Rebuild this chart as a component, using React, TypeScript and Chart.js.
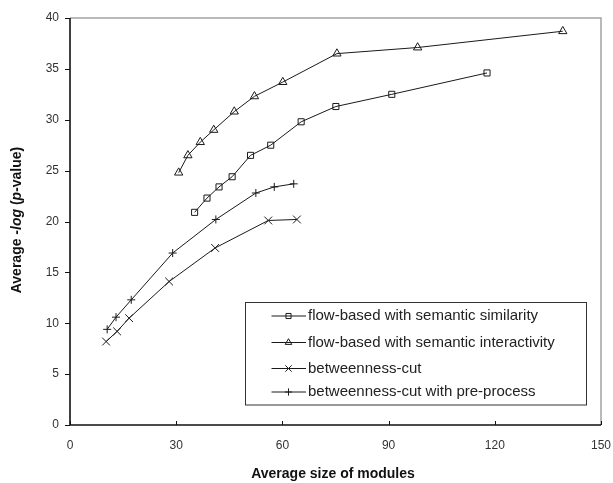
import React, { useEffect, useRef } from "react";
import { Chart, registerables } from "chart.js";

Chart.register(...registerables);

const seriesNames = [
  "flow-based with semantic similarity",
  "flow-based with semantic interactivity",
  "betweenness-cut",
  "betweenness-cut with pre-process",
];

const simX = [35.2, 38.7, 42.1, 45.8, 51.0, 56.7, 65.3, 75.1, 90.9, 117.8];
const simY = [20.9, 22.3, 23.4, 24.4, 26.5, 27.5, 29.8, 31.3, 32.5, 34.6];

const interX = [30.7, 33.3, 36.8, 40.6, 46.4, 52.1, 60.1, 75.4, 98.2, 139.2];
const interY = [24.8, 26.5, 27.8, 29.0, 30.8, 32.3, 33.7, 36.5, 37.1, 38.7];

const btwX = [10.2, 13.3, 16.7, 28.0, 41.0, 56.0, 64.1];
const btwY = [8.2, 9.2, 10.5, 14.1, 17.4, 20.1, 20.2];

const preX = [10.5, 13.0, 17.3, 29.0, 41.2, 52.5, 57.7, 63.2];
const preY = [9.4, 10.6, 12.3, 16.9, 20.2, 22.8, 23.4, 23.7];

const xTicks = [0, 30, 60, 90, 120, 150];
const yTicks = [0, 5, 10, 15, 20, 25, 30, 35, 40];

const xTitle = "Average size of modules";
const yTitleParts = [
  { t: "Average ", i: false },
  { t: "-log", i: true },
  { t: " (", i: false },
  { t: "p", i: true },
  { t: "-value)", i: false },
];

const FONT = "'Liberation Sans', Arial, sans-serif";
const LINE = "#1a1a1a";

const toPts = (xs: number[], ys: number[]) => xs.map((x, i) => ({ x, y: ys[i] }));

const styles = [
  { pointStyle: "rect", radius: 4.3, legendRadius: 3.6 },
  { pointStyle: "triangle", radius: 4.8, legendRadius: 3.8 },
  { pointStyle: "crossRot", radius: 5.5, legendRadius: 4.5 },
  { pointStyle: "cross", radius: 4.0, legendRadius: 3.6 },
];

function drawMarker(ctx: CanvasRenderingContext2D, style: string, r: number, x: number, y: number) {
  ctx.save();
  ctx.strokeStyle = LINE;
  ctx.lineWidth = 1;
  ctx.beginPath();
  if (style === "rect") {
    const s = Math.SQRT1_2 * r;
    ctx.rect(x - s, y - s, 2 * s, 2 * s);
  } else if (style === "triangle") {
    ctx.moveTo(x, y - r);
    ctx.lineTo(x + r * 0.866, y + r * 0.5);
    ctx.lineTo(x - r * 0.866, y + r * 0.5);
    ctx.closePath();
  } else if (style === "crossRot") {
    const s = Math.SQRT1_2 * r;
    ctx.moveTo(x - s, y - s);
    ctx.lineTo(x + s, y + s);
    ctx.moveTo(x + s, y - s);
    ctx.lineTo(x - s, y + s);
  } else {
    ctx.moveTo(x, y - r);
    ctx.lineTo(x, y + r);
    ctx.moveTo(x - r, y);
    ctx.lineTo(x + r, y);
  }
  ctx.stroke();
  ctx.restore();
}

const framePlugin = {
  id: "frame",
  beforeDatasetsDraw(chart: any) {
    const { ctx, chartArea: a, scales } = chart;
    ctx.save();
    ctx.strokeStyle = "#a0a4a8";
    ctx.lineWidth = 1.5;
    ctx.beginPath();
    ctx.moveTo(a.left, a.top);
    ctx.lineTo(a.right, a.top);
    ctx.lineTo(a.right, a.bottom);
    ctx.stroke();
    ctx.strokeStyle = "#111";
    ctx.lineWidth = 1.6;
    ctx.beginPath();
    ctx.moveTo(a.left, a.top);
    ctx.lineTo(a.left, a.bottom);
    ctx.lineTo(a.right, a.bottom);
    ctx.stroke();
    ctx.lineWidth = 1;
    ctx.beginPath();
    for (const v of yTicks) {
      const y = Math.round(scales.y.getPixelForValue(v)) + 0.5;
      ctx.moveTo(a.left - 5, y);
      ctx.lineTo(a.left, y);
    }
    for (const v of xTicks) {
      const x = Math.round(scales.x.getPixelForValue(v)) + 0.5;
      ctx.moveTo(x, a.bottom);
      ctx.lineTo(x, a.bottom - 4);
    }
    ctx.stroke();
    ctx.restore();
  },
  afterDraw(chart: any) {
    const { ctx, data } = chart;
    ctx.save();
    ctx.fillStyle = "#111";
    ctx.font = `bold 14px ${FONT}`;
    ctx.textAlign = "center";
    ctx.textBaseline = "middle";
    ctx.fillText(xTitle, 333, 474);
    ctx.translate(17.5, 220);
    ctx.rotate(-Math.PI / 2);
    let total = 0;
    for (const p of yTitleParts) {
      ctx.font = `${p.i ? "italic " : ""}bold 14px ${FONT}`;
      total += ctx.measureText(p.t).width;
    }
    let cx = -total / 2;
    ctx.textAlign = "left";
    for (const p of yTitleParts) {
      ctx.font = `${p.i ? "italic " : ""}bold 14px ${FONT}`;
      ctx.fillText(p.t, cx, 0);
      cx += ctx.measureText(p.t).width;
    }
    ctx.restore();

    ctx.save();
    const bx = 245.5, by = 302.5, bw = 341, bh = 102.5;
    ctx.fillStyle = "#fff";
    ctx.fillRect(bx, by, bw, bh);
    ctx.strokeStyle = "#333";
    ctx.lineWidth = 1;
    ctx.strokeRect(bx, by, bw, bh);
    const rows = [316, 342.5, 368.5, 392];
    data.datasets.forEach((ds: any, i: number) => {
      const y = rows[i];
      ctx.strokeStyle = LINE;
      ctx.lineWidth = 1;
      ctx.beginPath();
      ctx.moveTo(271.5, y);
      ctx.lineTo(306, y);
      ctx.stroke();
      drawMarker(ctx, styles[i].pointStyle, styles[i].legendRadius, 288.5, y);
      ctx.fillStyle = "#222";
      ctx.font = `15px ${FONT}`;
      ctx.textAlign = "left";
      ctx.textBaseline = "middle";
      ctx.fillText(ds.label, 308, y);
    });
    ctx.restore();
  },
};

export default function App() {
  const ref = useRef<HTMLCanvasElement>(null);
  useEffect(() => {
    if (!ref.current) return;
    const sets = [
      toPts(simX, simY),
      toPts(interX, interY),
      toPts(btwX, btwY),
      toPts(preX, preY),
    ];
    const chart = new Chart(ref.current, {
      type: "line",
      data: {
        datasets: sets.map((d, i) => ({
          label: seriesNames[i],
          data: d,
          borderColor: LINE,
          borderWidth: 1,
          backgroundColor: "rgba(0,0,0,0)",
          pointStyle: styles[i].pointStyle as any,
          pointRadius: styles[i].radius,
          pointBorderColor: LINE,
          pointBackgroundColor: "rgba(0,0,0,0)",
          pointBorderWidth: 1,
          tension: 0,
          fill: false,
        })),
      },
      options: {
        responsive: false,
        animation: false,
        events: [],
        layout: { padding: { left: 0, top: 18, right: 12, bottom: 0 } },
        plugins: {
          legend: { display: false },
          tooltip: { enabled: false },
          title: { display: false },
        },
        scales: {
          x: {
            type: "linear",
            min: 0,
            max: 150,
            afterFit: (s: any) => {
              s.height = 58;
              s.paddingRight = 0;
              s.paddingLeft = 0;
            },
            afterBuildTicks: (s: any) => {
              s.ticks = xTicks.map((v) => ({ value: v }));
            },
            grid: { display: false, drawTicks: false },
            border: { display: false },
            ticks: {
              color: "#333",
              font: { family: FONT, size: 12 },
              padding: 13,
              maxRotation: 0,
            },
          },
          y: {
            type: "linear",
            min: 0,
            max: 40,
            afterFit: (s: any) => {
              s.width = 70;
              s.paddingTop = 0;
              s.paddingBottom = 0;
            },
            afterBuildTicks: (s: any) => {
              s.ticks = yTicks.map((v) => ({ value: v }));
            },
            grid: { display: false, drawTicks: false },
            border: { display: false },
            ticks: {
              color: "#333",
              font: { family: FONT, size: 12 },
              padding: 11,
            },
          },
        },
      },
      plugins: [framePlugin],
    });
    return () => chart.destroy();
  }, []);
  return (
    <div style={{ position: "absolute", left: 0, top: 0, width: 613, height: 483, background: "#fff" }}>
      <canvas ref={ref} width={613} height={483} style={{ width: 613, height: 483, display: "block" }} />
    </div>
  );
}
